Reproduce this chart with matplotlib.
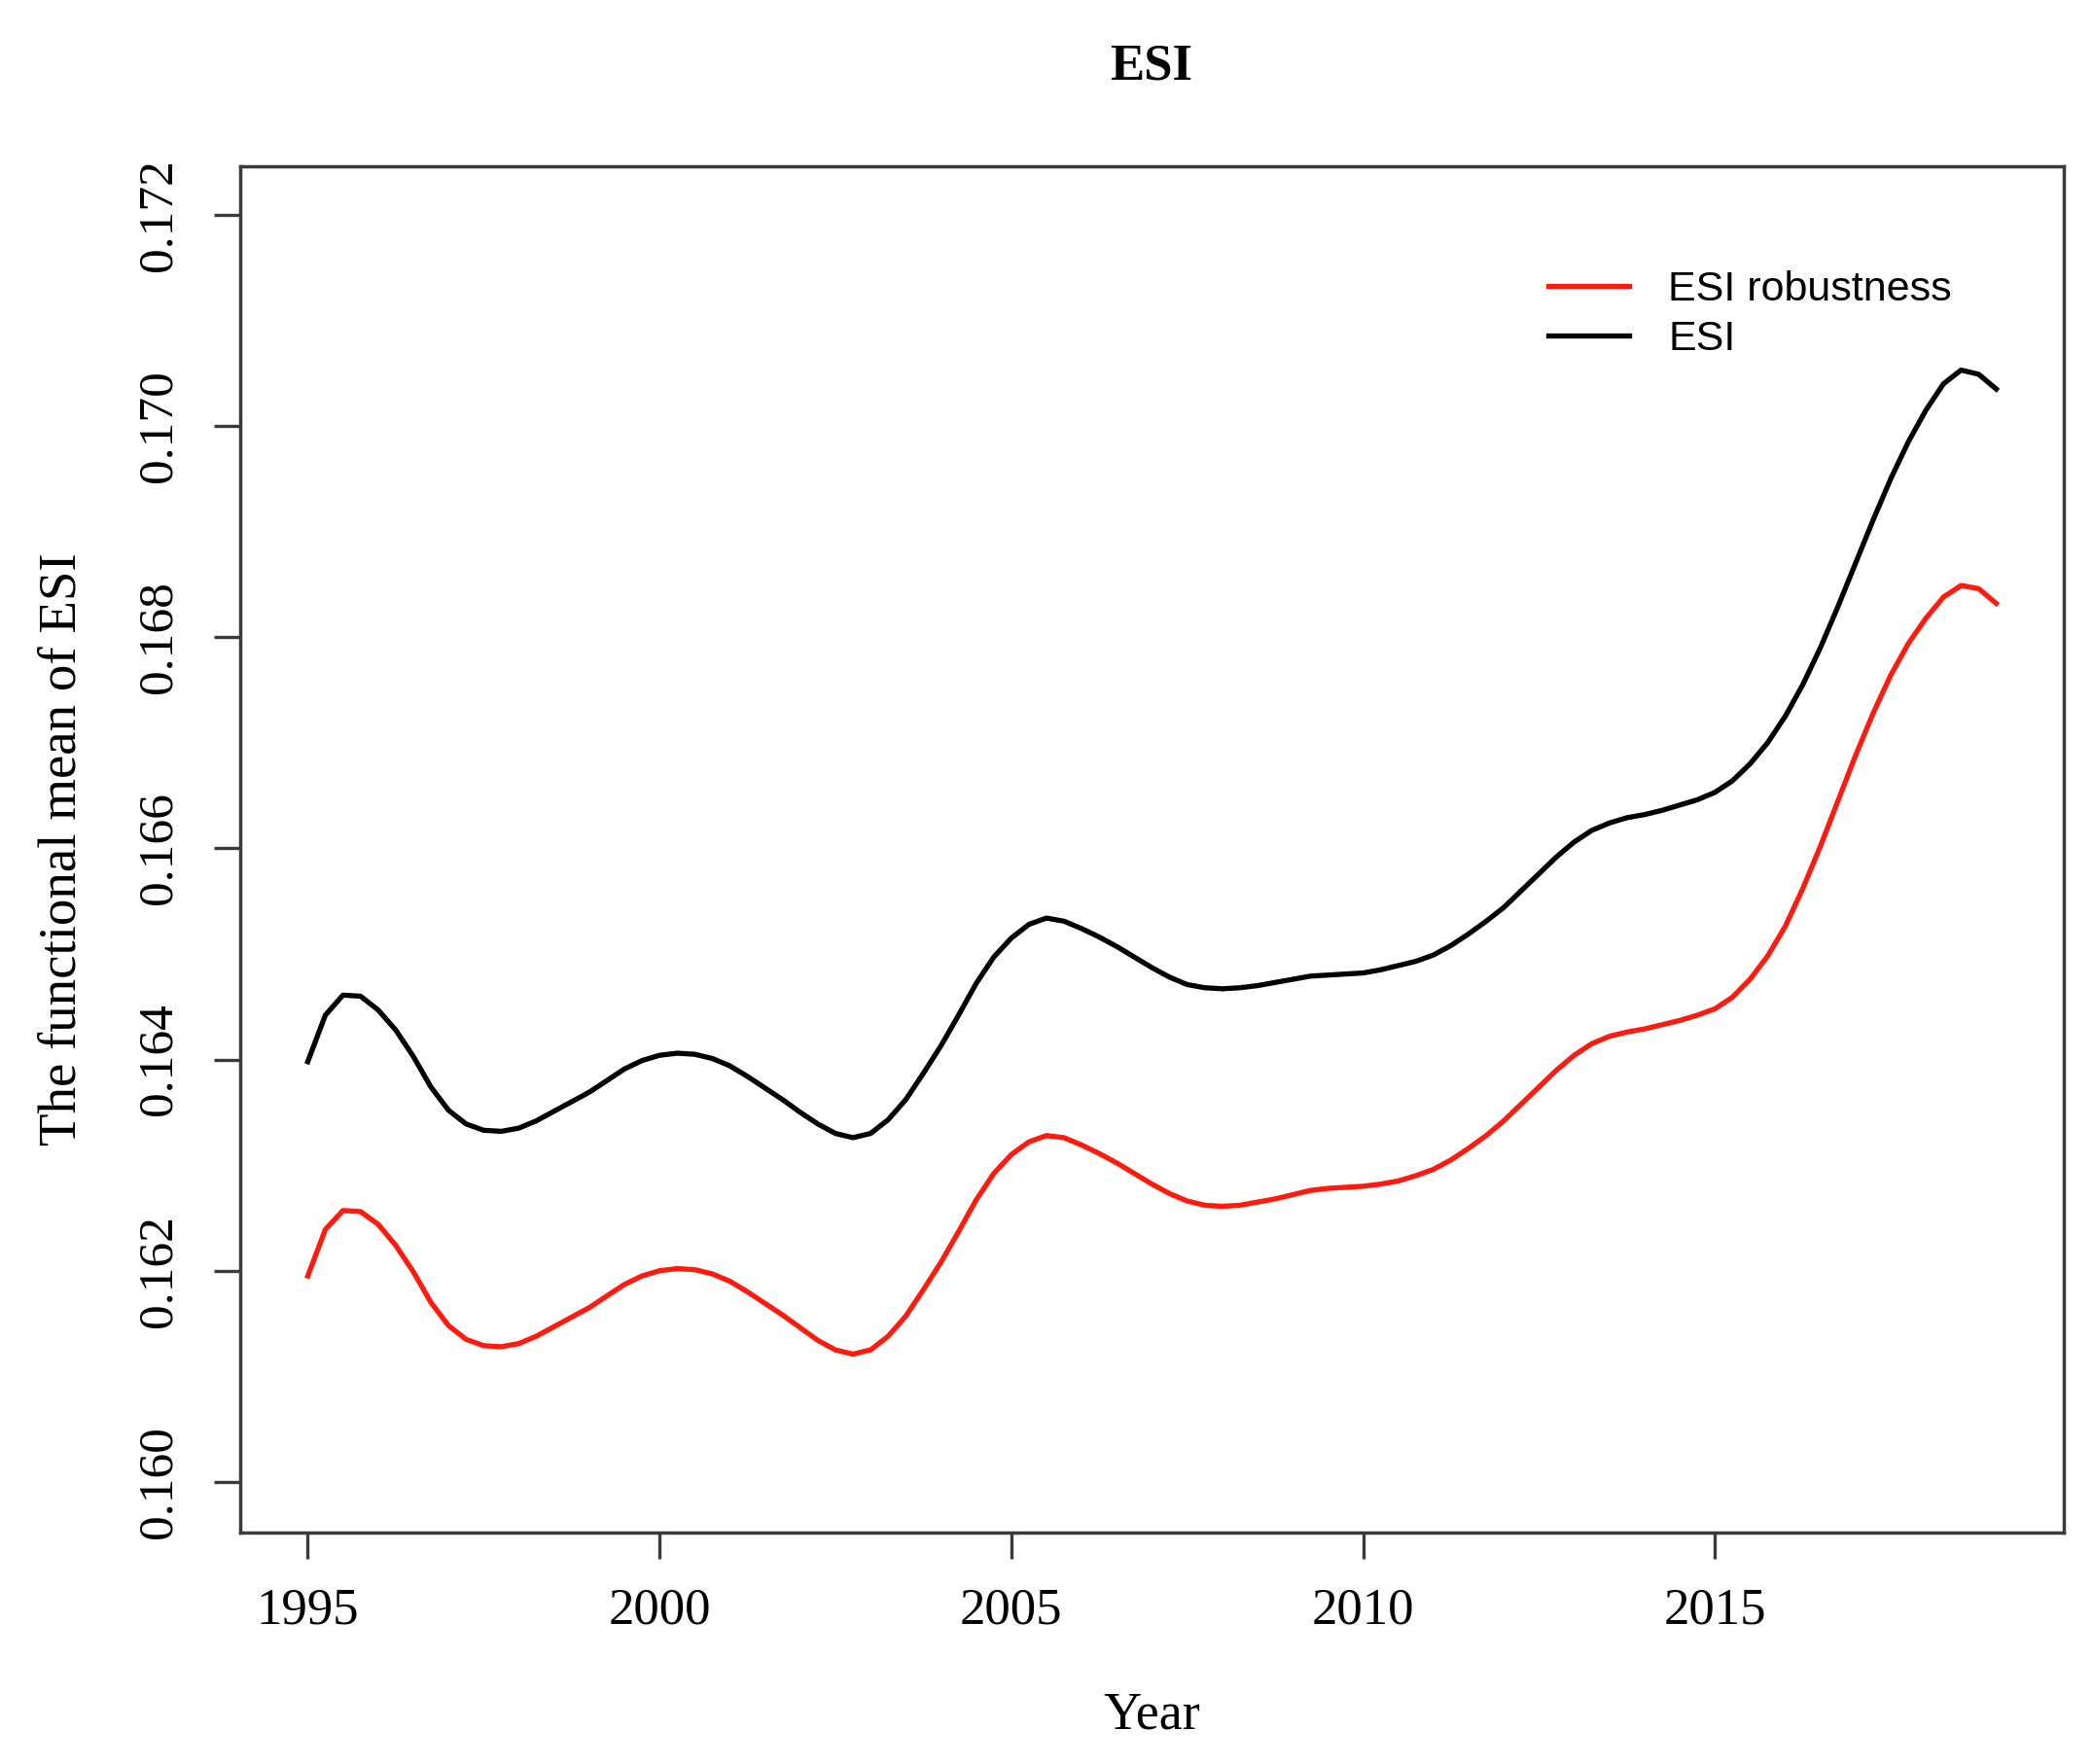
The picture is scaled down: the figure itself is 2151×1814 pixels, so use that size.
import matplotlib
matplotlib.use("Agg")
import matplotlib.pyplot as plt

# ---- data (quarter-year steps) ----
years = [1995.00, 1995.25, 1995.50, 1995.75, 1996.00, 1996.25, 1996.50, 1996.75,
         1997.00, 1997.25, 1997.50, 1997.75, 1998.00, 1998.25, 1998.50, 1998.75,
         1999.00, 1999.25, 1999.50, 1999.75, 2000.00, 2000.25, 2000.50, 2000.75,
         2001.00, 2001.25, 2001.50, 2001.75, 2002.00, 2002.25, 2002.50, 2002.75,
         2003.00, 2003.25, 2003.50, 2003.75, 2004.00, 2004.25, 2004.50, 2004.75,
         2005.00, 2005.25, 2005.50, 2005.75, 2006.00, 2006.25, 2006.50, 2006.75,
         2007.00, 2007.25, 2007.50, 2007.75, 2008.00, 2008.25, 2008.50, 2008.75,
         2009.00, 2009.25, 2009.50, 2009.75, 2010.00, 2010.25, 2010.50, 2010.75,
         2011.00, 2011.25, 2011.50, 2011.75, 2012.00, 2012.25, 2012.50, 2012.75,
         2013.00, 2013.25, 2013.50, 2013.75, 2014.00, 2014.25, 2014.50, 2014.75,
         2015.00, 2015.25, 2015.50, 2015.75, 2016.00, 2016.25, 2016.50, 2016.75,
         2017.00, 2017.25, 2017.50, 2017.75, 2018.00, 2018.25, 2018.50, 2018.75,
         2019.00]

esi = [0.16398, 0.16442, 0.16461, 0.16460, 0.16447, 0.16428, 0.16403, 0.16374,
       0.16352, 0.16339, 0.16333, 0.16332, 0.16335, 0.16342, 0.16351, 0.16360,
       0.16369, 0.16380, 0.16391, 0.16399, 0.16404, 0.16406, 0.16405, 0.16401,
       0.16394, 0.16384, 0.16373, 0.16362, 0.16350, 0.16339, 0.16330, 0.16326,
       0.16330, 0.16343, 0.16362, 0.16387, 0.16413, 0.16442, 0.16472, 0.16497,
       0.16515, 0.16528, 0.16534, 0.16531, 0.16524, 0.16516, 0.16507, 0.16497,
       0.16487, 0.16478, 0.16471, 0.16468, 0.16467, 0.16468, 0.16470, 0.16473,
       0.16476, 0.16479, 0.16480, 0.16481, 0.16482, 0.16485, 0.16489, 0.16493,
       0.16499, 0.16508, 0.16519, 0.16531, 0.16544, 0.16560, 0.16576, 0.16592,
       0.16606, 0.16617, 0.16624, 0.16629, 0.16632, 0.16636, 0.16641, 0.16646,
       0.16653, 0.16664, 0.16680, 0.16700, 0.16725, 0.16755, 0.16790, 0.16829,
       0.16870, 0.16911, 0.16950, 0.16985, 0.17015, 0.17040, 0.17053, 0.17049,
       0.17035]

esi_robust = [0.16195, 0.16239, 0.16257, 0.16256, 0.16244, 0.16224, 0.16199, 0.16170,
              0.16148, 0.16135, 0.16129, 0.16128, 0.16131, 0.16138, 0.16147, 0.16156,
              0.16165, 0.16176, 0.16187, 0.16195, 0.16200, 0.16202, 0.16201, 0.16197,
              0.16190, 0.16180, 0.16169, 0.16158, 0.16146, 0.16134, 0.16125, 0.16121,
              0.16125, 0.16138, 0.16157, 0.16182, 0.16208, 0.16237, 0.16267, 0.16292,
              0.16310, 0.16322, 0.16328, 0.16326, 0.16319, 0.16311, 0.16302, 0.16292,
              0.16282, 0.16273, 0.16266, 0.16262, 0.16261, 0.16262, 0.16265, 0.16268,
              0.16272, 0.16276, 0.16278, 0.16279, 0.16280, 0.16282, 0.16285, 0.16290,
              0.16296, 0.16305, 0.16316, 0.16328, 0.16342, 0.16358, 0.16374, 0.16390,
              0.16404, 0.16415, 0.16422, 0.16426, 0.16429, 0.16433, 0.16437, 0.16442,
              0.16448, 0.16459, 0.16476, 0.16498, 0.16526, 0.16562, 0.16602, 0.16645,
              0.16688, 0.16728, 0.16764, 0.16794, 0.16818, 0.16838, 0.16849, 0.16846,
              0.16832]

xticks = [1995, 2000, 2005, 2010, 2015]
yticks = [0.160, 0.162, 0.164, 0.166, 0.168, 0.170, 0.172]
ytick_labels = ["0.160", "0.162", "0.164", "0.166", "0.168", "0.170", "0.172"]

# ---- figure ----
W, H = 2151, 1814
DPI = 100
fig = plt.figure(figsize=(W / DPI, H / DPI), dpi=DPI)
fig.patch.set_facecolor("white")

ax_l, ax_r, ax_t, ax_b = 247, 2122, 171, 1576
ax = fig.add_axes([ax_l / W, 1 - ax_b / H, (ax_r - ax_l) / W, (ax_b - ax_t) / H])

serif = "Liberation Serif"
sans = "Liberation Sans"
spine_col = "#3a3a3a"

l_red, = ax.plot(years, esi_robust, color="#ff1a0d", lw=3.8, solid_joinstyle="round",
                 label="ESI robustness")
l_blk, = ax.plot(years, esi, color="black", lw=3.8, solid_joinstyle="round", label="ESI")

ax.set_xlim(1994.04, 2019.96)
ax.set_ylim(0.15952, 0.17246)

ax.set_xticks(xticks)
ax.set_xticklabels([str(x) for x in xticks], fontfamily=serif, fontsize=38)
ax.set_yticks(yticks)
ax.set_yticklabels(ytick_labels, fontfamily=serif, fontsize=37, rotation=90, va="center")

ax.tick_params(axis="both", direction="out", length=19.5, width=2.4, color=spine_col)
ax.tick_params(axis="x", pad=21)
ax.tick_params(axis="y", pad=24)

for s in ax.spines.values():
    s.set_color(spine_col)
    s.set_linewidth(2.5)

# titles / labels
fig.text(1184 / W, 1 - 68 / H, "ESI", fontfamily=serif, fontweight="bold",
         fontsize=38, ha="center", va="center")
fig.text(1184 / W, 1 - 1764 / H, "Year", fontfamily=serif, fontsize=39,
         ha="center", va="center")
fig.text(64 / W, 1 - ((ax_t + ax_b) / 2) / H, "The functional mean of ESI", fontfamily=serif,
         fontsize=39.5, ha="center", va="center", rotation=90)

leg = ax.legend(handles=[l_red, l_blk], loc="upper left",
                bbox_to_anchor=(1592 / W, 1 - 278 / H), bbox_transform=fig.transFigure,
                frameon=False, prop={"family": sans, "size": 31},
                handlelength=1.93, handletextpad=0.93, labelspacing=0.26,
                borderpad=0, borderaxespad=0)

fig.savefig("out.png", dpi=DPI, facecolor="white")
